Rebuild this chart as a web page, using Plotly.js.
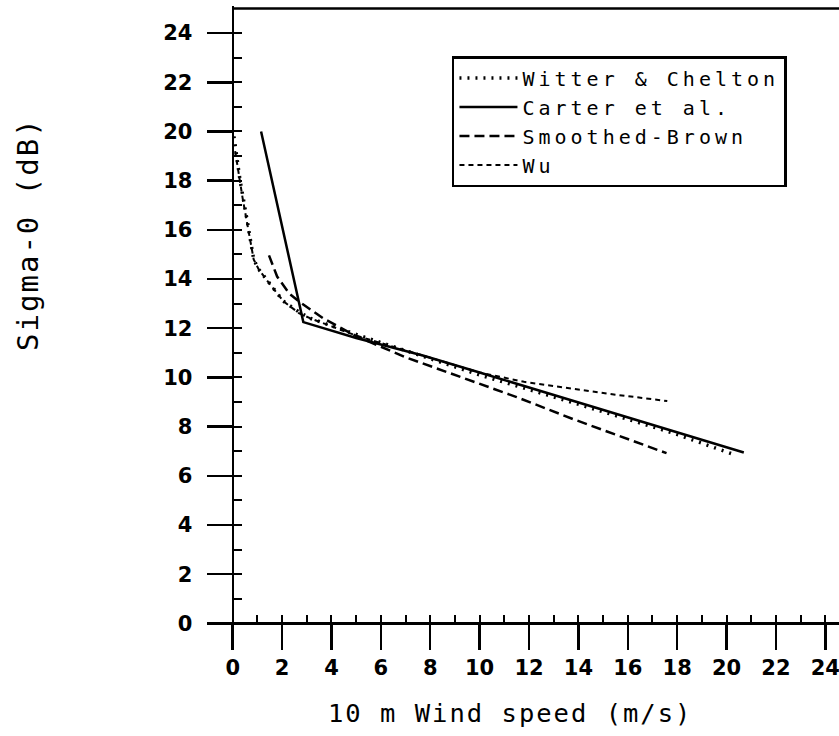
<!DOCTYPE html>
<html><head><meta charset="utf-8">
<script src="https://cdn.plot.ly/plotly-3.0.1.min.js"></script>
<style>
html,body{margin:0;padding:0;overflow:hidden;background:#fff;width:839px;height:736px}
#chart{width:860px;height:736px}
.legendtext{letter-spacing:4px}
.annotation-text{letter-spacing:2px}
</style></head><body><div id="chart"></div>
<script>
// Witter & Chelton
const wcX = [0.05, 0.3, 0.6, 0.85, 1.05, 1.5, 2.05, 2.7, 3.15, 5.0, 7.7, 10.0, 13.7, 17.8, 20.2];
const wcY = [19.8, 18.0, 16.3, 14.8, 14.4, 13.8, 13.1, 12.65, 12.4, 11.75, 10.85, 10.1, 9.0, 7.75, 6.9];
// Carter et al.
const carterX = [1.15, 2.86, 5.0, 7.7, 10.0, 12.4, 16.5, 20.7];
const carterY = [20.0, 12.25, 11.6, 10.89, 10.2, 9.47, 8.25, 6.95];
// Smoothed-Brown
const brownX = [1.47, 1.8, 2.3, 2.72, 3.67, 5.0, 7.0, 9.34, 11.5, 13.8, 15.7, 17.57];
const brownY = [14.96, 14.1, 13.4, 13.06, 12.4, 11.68, 10.82, 9.97, 9.2, 8.3, 7.62, 6.92];
// Wu
const wuX = [0.1, 0.4, 0.85, 1.05, 1.5, 2.05, 2.7, 3.15, 5.0, 7.7, 10.0, 11.8, 13.7, 15.5, 17.6];
const wuY = [19.2, 17.3, 14.8, 14.4, 13.8, 13.1, 12.6, 12.4, 11.7, 10.9, 10.2, 9.82, 9.55, 9.3, 9.04];

const seriesNames = ["Witter & Chelton", "Carter et al.", "Smoothed-Brown", "Wu"];
const xTickVals = [0,2,4,6,8,10,12,14,16,18,20,22,24];
const yTickVals = [0,2,4,6,8,10,12,14,16,18,20,22,24];
const xTitle = "10 m Wind speed (m/s)";
const yTitle = "Sigma-0 (dB)";

const minorVals = [];
for (let i = 0; i <= 24; i++) minorVals.push(i);

const xr = [-1, 25];
const yr = [-1, 25.1];
const tickFont = {family: "DejaVu Sans", size: 21, color: "#000", weight: "bold"};
const monoFamily = "DejaVu Sans Mono";

const traces = [
  {x: wcX, y: wcY, name: seriesNames[0], mode: "lines", line: {color: "#000", width: 3.5, dash: "2px,6px"}},
  {x: carterX, y: carterY, name: seriesNames[1], mode: "lines", line: {color: "#000", width: 2.5}},
  {x: brownX, y: brownY, name: seriesNames[2], mode: "lines", line: {color: "#000", width: 2.5, dash: "10px,5px"}},
  {x: wuX, y: wuY, name: seriesNames[3], mode: "lines", line: {color: "#000", width: 2, dash: "5px,4px"}},
  {x: [], y: [], xaxis: "x2", yaxis: "y2", showlegend: false, hoverinfo: "skip", mode: "lines"}
];

const layout = {
  width: 860, height: 736,
  margin: {l: 208, r: 10, t: 6, b: 88},
  paper_bgcolor: "#fff", plot_bgcolor: "#fff",
  showlegend: true,
  font: {family: "DejaVu Sans", color: "#000"},
  xaxis: {
    range: xr, anchor: "free", position: 1/26.1,
    showline: true, linewidth: 2.5, linecolor: "#000",
    showgrid: false, zeroline: false,
    tickmode: "array", tickvals: xTickVals, ticktext: xTickVals.map(String),
    ticks: "outside", ticklen: 25, tickwidth: 2.5, tickcolor: "#000",
    tickfont: tickFont
  },
  yaxis: {
    range: yr, anchor: "free", position: 1/26,
    showline: true, linewidth: 2.5, linecolor: "#000",
    showgrid: false, zeroline: false,
    tickmode: "array", tickvals: yTickVals, ticktext: yTickVals.map(String),
    ticks: "outside", ticklen: 25, tickwidth: 2.5, tickcolor: "#000",
    ticklabelstandoff: 10,
    tickfont: tickFont
  },
  xaxis2: {
    range: xr, overlaying: "x", anchor: "free", position: 1/26.1,
    showline: false, showgrid: false, zeroline: false, showticklabels: false,
    tickmode: "array", tickvals: minorVals,
    ticks: "inside", ticklen: 8, tickwidth: 2, tickcolor: "#000"
  },
  yaxis2: {
    range: yr, overlaying: "y", anchor: "free", position: 1/26,
    showline: false, showgrid: false, zeroline: false, showticklabels: false,
    tickmode: "array", tickvals: minorVals,
    ticks: "inside", ticklen: 8, tickwidth: 2, tickcolor: "#000"
  },
  legend: {
    x: 0.38, y: 0.922, xanchor: "left", yanchor: "top",
    bgcolor: "#fff", bordercolor: "#000", borderwidth: 2.5,
    font: {family: monoFamily, size: 20, color: "#000"},
    itemwidth: 58,
    tracegroupgap: 0
  },
  shapes: [
    {type: "line", xref: "x", yref: "y", x0: 0, x1: 25, y0: 25, y1: 25, line: {color: "#000", width: 2.5}}
  ],
  annotations: [
    {text: xTitle, xref: "paper", yref: "paper", x: 0.47, y: -0.102, showarrow: false,
     xanchor: "center", yanchor: "middle", font: {family: monoFamily, size: 25.5, color: "#000"}},
    {text: yTitle, xref: "paper", yref: "paper", x: -0.2804, y: 0.645, showarrow: false, textangle: -90,
     xanchor: "center", yanchor: "middle", font: {family: monoFamily, size: 29, color: "#000"}}
  ]
};

Plotly.newPlot("chart", traces, layout, {displayModeBar: false, staticPlot: true});
</script></body></html>
